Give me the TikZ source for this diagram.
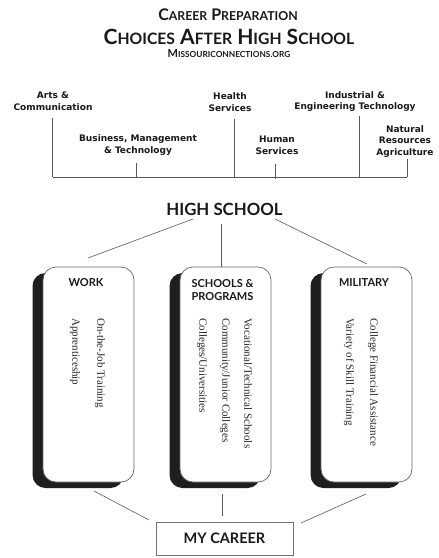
\documentclass[tikz,border=0pt]{standalone}
\usepackage{fontspec}
\setmainfont{Liberation Serif}
\newfontfamily\labfont{DejaVu Sans}
\newfontfamily\headfont{Lato}
\newcommand\smA[1]{{\fontsize{12.3}{13}\selectfont #1}}
\newcommand\smB[1]{{\fontsize{15.7}{17}\selectfont #1}}
\newcommand\smC[1]{{\fontsize{8.3}{10}\selectfont #1}}
\begin{document}
\begin{tikzpicture}[x=1pt,y=-1pt,
  lab/.style={font=\labfont\bfseries\fontsize{9}{11.8}\selectfont, align=center, inner sep=0pt, text=black!90},
  head/.style={font=\headfont\bfseries, inner sep=0pt, text=black!90, align=center},
  rottext/.style={rotate=-90, anchor=west, inner sep=0pt, font=\fontsize{11}{13}\selectfont, text=black!85},
  conn/.style={draw=black!65, line width=0.6pt},
  card/.style={draw=black!60, fill=white, rounded corners=13pt, line width=0.7pt, minimum width=91pt, minimum height=215pt, inner sep=0pt},
  shade/.style={fill=black!88, rounded corners=13pt, minimum width=91pt, minimum height=215pt, inner sep=0pt},
  careerbox/.style={draw=black!55, fill=white, line width=0.8pt, minimum width=137pt, minimum height=33pt, inner sep=0pt}]
\useasboundingbox (0,0) rectangle (439,558);
\fill[white] (0,0) rectangle (439,558);

% title
\node[head, font=\headfont\bfseries\fontsize{16}{17}\selectfont] (t1) at (228,15) {C\smA{AREER} P\smA{REPARATION}};
\node[head, font=\headfont\bfseries\fontsize{21}{23}\selectfont] (t2) at (229,37) {C\smB{HOICES} A\smB{FTER} H\smB{IGH} S\smB{CHOOL}};
\node[head, font=\headfont\bfseries\fontsize{11}{12}\selectfont] (t3) at (229,54) {M\smC{ISSOURICONNECTIONS.ORG}};

% career clusters
\node[lab] (arts) at (53,101.5) {Arts \&\\Communication};
\node[lab] (bus) at (138,145) {Business, Management\\\& Technology};
\node[lab] (health) at (230,102.5) {Health\\Services};
\node[lab] (human) at (277,145) {Human\\Services};
\node[lab] (indus) at (355,101.5) {Industrial \&\\Engineering Technology};
\node[lab] (nat) at (405,141.5) {Natural\\Resources\\Agriculture};

\coordinate (barL) at (52.7,177);
\coordinate (barR) at (407,177);
\draw[conn] (barL) -- (barR);
\coordinate (artsT) at (52.7,118);
\coordinate (busT) at (136,163);
\coordinate (busB) at (136,177);
\coordinate (healthT) at (234,119);
\coordinate (healthB) at (234,177);
\coordinate (humanT) at (275,164);
\coordinate (humanB) at (275,178.5);
\coordinate (indusT) at (359,116);
\coordinate (indusB) at (359,177);
\coordinate (natT) at (407,159);
\draw[conn] (artsT) -- (barL);
\draw[conn] (busT) -- (busB);
\draw[conn] (healthT) -- (healthB);
\draw[conn] (humanT) -- (humanB);
\draw[conn] (indusT) -- (indusB);
\draw[conn] (natT) -- (barR);

% high school
\node[head, font=\headfont\bfseries\fontsize{16.8}{18}\selectfont] (hs) at (224.5,209) {HIGH SCHOOL};

% cards
\node[shade] (workS) at (78,380.5) {};
\node[card] (work) at (88.5,374.5) {};
\node[shade] (schoolS) at (215,380.5) {};
\node[card] (school) at (225.5,374.5) {};
\node[shade] (milS) at (356,380.5) {};
\node[card] (mil) at (366.5,374.5) {};

\node[head, font=\headfont\bfseries\fontsize{11}{13}\selectfont] (workH) at (86,283) {WORK};
\node[head, font=\headfont\bfseries\fontsize{11}{13}\selectfont] (schoolH) at (222.5,290.5) {SCHOOLS \&\\PROGRAMS};
\node[head, font=\headfont\bfseries\fontsize{11}{13}\selectfont] (milH) at (364,283) {MILITARY};

\node[rottext] (w1) at (100,318) {On-the-Job Training};
\node[rottext] (w2) at (75,318) {Apprenticeship};
\node[rottext] (s1) at (248,318) {Vocational/Technical Schools};
\node[rottext] (s2) at (225,318) {Community/Junior Colleges};
\node[rottext] (s3) at (202,318) {Colleges/Universities};
\node[rottext] (m1) at (373,318) {College Financial Assistance};
\node[rottext] (m2) at (349,318) {Variety of Skill Training};

% connectors from high school
\coordinate (hsL) at (193,219);
\coordinate (workT) at (88,258);
\coordinate (hsM) at (221,224);
\coordinate (schoolT) at (221,266.5);
\coordinate (hsR) at (275,219);
\coordinate (milT) at (367,264);
\draw[conn] (hsL) -- (workT);
\draw[conn] (hsM) -- (schoolT);
\draw[conn] (hsR) -- (milT);

% my career
\node[careerbox] (career) at (224.5,538.5) {};
\node[head, font=\headfont\bfseries\fontsize{14.5}{16}\selectfont] (careerT) at (224.5,538.5) {MY CAREER};
\coordinate (workB) at (94,491);
\coordinate (carL) at (149,520);
\coordinate (schoolB) at (222,494);
\coordinate (carM) at (222,516);
\coordinate (milB) at (366,494);
\coordinate (carR) at (301,523);
\draw[conn] (workB) -- (carL);
\draw[conn] (schoolB) -- (carM);
\draw[conn] (milB) -- (carR);
\end{tikzpicture}
\end{document}
